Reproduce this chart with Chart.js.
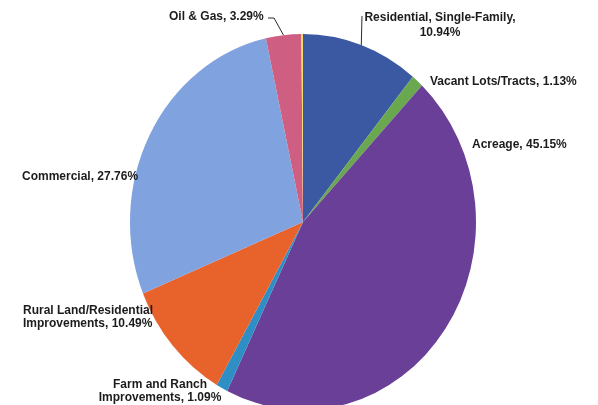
<!DOCTYPE html>
<html>
<head>
<meta charset="utf-8">
<script src="https://cdn.jsdelivr.net/npm/chart.js@4.4.1/dist/chart.umd.min.js"></script>
<style>
  html, body { margin: 0; padding: 0; background: #fff; }
  #value-pie { display: block; }
</style>
</head>
<body>
<canvas id="value-pie" width="598" height="405"></canvas>
<script>
// Market value share by property category, clockwise from 12 o'clock.
// The last sliver is the unlabelled remainder (100 - sum of labelled).
const categories = [
    "Residential, Single-Family",
    "Vacant Lots/Tracts",
    "Acreage",
    "Farm and Ranch Improvements",
    "Rural Land/Residential Improvements",
    "Commercial",
    "Oil & Gas",
    "Other",
];
const shares = [10.94, 1.13, 45.15, 1.09, 10.49, 27.76, 3.29, 0.15];

// Label text lines per slice (the remainder sliver has none).
const labelLines = [
    ["Residential, Single-Family,", "10.94%"],
    ["Vacant Lots/Tracts, 1.13%"],
    ["Acreage, 45.15%"],
    ["Farm and Ranch", "Improvements, 1.09%"],
    ["Rural Land/Residential", "Improvements, 10.49%"],
    ["Commercial, 27.76%"],
    ["Oil & Gas, 3.29%"],
    [],
];

const sliceColors = [
    "#3b58a3", // residential
    "#6aa84f", // vacant
    "#6a3f98", // acreage
    "#2f8ec4", // farm & ranch
    "#e8622c", // rural land
    "#80a2df", // commercial
    "#cf5f82", // oil & gas
    "#f2dc6a", // remainder
];

// The scanned pie is slightly taller than wide.
const Y_STRETCH = 188 / 173;

// Label placement: anchor x/y, alignment, line gap, optional leader
// (leader goes from the text to the slice's mid-angle rim).
const labelLayout = [
    { x: 440, y: 18, align: "center", gap: 15, lead: [[362, 16]] },
    { x: 430, y: 82, align: "left" },
    { x: 472, y: 145, align: "left" },
    { x: 160, y: 385, align: "center", gap: 13 },
    { x: 23, y: 311, align: "left", gap: 13 },
    { x: 22, y: 177, align: "left" },
    { x: 169, y: 17, align: "left", lead: [[268, 18], [274, 18]] },
    null,
];

const stretchPlugin = {
    id: "stretch",
    beforeDatasetsDraw(chart) {
        const arc = chart.getDatasetMeta(0).data[0];
        const ctx = chart.ctx;
        ctx.save();
        ctx.translate(arc.x, arc.y);
        ctx.scale(1, Y_STRETCH);
        ctx.translate(-arc.x, -arc.y);
    },
    afterDatasetsDraw(chart) {
        chart.ctx.restore();
    },
};

const labelPlugin = {
    id: "sliceLabels",
    afterDraw(chart) {
        const ctx = chart.ctx;
        const arcs = chart.getDatasetMeta(0).data;
        ctx.save();
        ctx.font = "bold 12px 'Liberation Sans', Arial, sans-serif";
        ctx.fillStyle = "#1c1c1c";
        ctx.strokeStyle = "#2a2a2a";
        ctx.lineWidth = 1;
        ctx.textBaseline = "middle";
        labelLines.forEach((lines, i) => {
            const lay = labelLayout[i];
            if (!lay || !lines.length) return;
            ctx.textAlign = lay.align;
            lines.forEach((t, k) => ctx.fillText(t, lay.x, lay.y + k * (lay.gap || 14)));
            if (lay.lead) {
                const a = arcs[i];
                const mid = (a.startAngle + a.endAngle) / 2;
                const ex = a.x + Math.cos(mid) * a.outerRadius;
                const ey = a.y + Math.sin(mid) * a.outerRadius * Y_STRETCH;
                ctx.beginPath();
                ctx.moveTo(lay.lead[0][0], lay.lead[0][1]);
                lay.lead.slice(1).forEach(p => ctx.lineTo(p[0], p[1]));
                ctx.lineTo(ex, ey);
                ctx.stroke();
            }
        });
        ctx.restore();
    },
};

new Chart(document.getElementById("value-pie"), {
    type: "pie",
    data: {
        labels: categories,
        datasets: [{
            data: shares,
            backgroundColor: sliceColors,
            borderWidth: 0,
        }],
    },
    options: {
        responsive: false,
        animation: false,
        events: [],
        layout: { padding: { left: 130, right: 122, top: 49, bottom: 10 } },
        plugins: {
            legend: { display: false },
            tooltip: { enabled: false },
            title: { display: false },
        },
    },
    plugins: [stretchPlugin, labelPlugin],
});
</script>
</body>
</html>
